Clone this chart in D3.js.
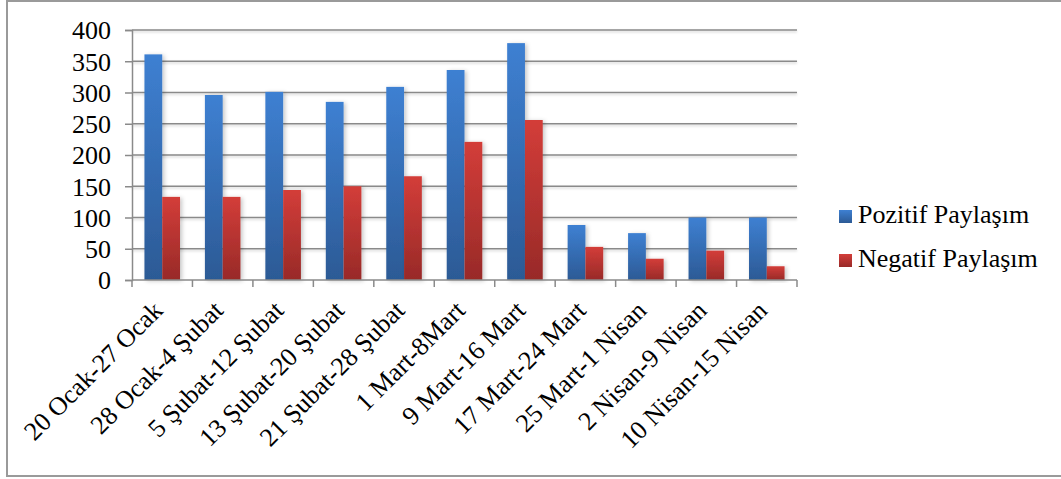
<!DOCTYPE html>
<html>
<head>
<meta charset="utf-8">
<script src="https://cdn.jsdelivr.net/npm/d3@7"></script>
<style>
  html, body { margin: 0; padding: 0; background: #fff; }
  svg text { font-family: "Liberation Serif", Tinos, "Times New Roman", "DejaVu Serif", serif !important; }
</style>
</head>
<body>
<svg id="chart" width="1061" height="479"></svg>
<script>
// Weekly counts of positive / negative posts
const categories = [
  "20 Ocak-27 Ocak", "28 Ocak-4 Şubat", "5 Şubat-12 Şubat", "13 Şubat-20 Şubat",
  "21 Şubat-28 Şubat", "1 Mart-8Mart", "9 Mart-16 Mart", "17 Mart-24 Mart",
  "25 Mart-1 Nisan", "2 Nisan-9 Nisan", "10 Nisan-15 Nisan"
];
const pozitif = [361, 296, 301, 285, 309, 336, 379, 88, 75, 100, 100];
const negatif = [133, 133, 144, 150, 166, 221, 256, 53, 34, 47, 22];
const seriesNames = ["Pozitif Paylaşım", "Negatif Paylaşım"];
const yTicks = [0, 50, 100, 150, 200, 250, 300, 350, 400];

const FONT = "'Liberation Serif', Tinos, 'Times New Roman', 'DejaVu Serif', serif";
const svg = d3.select("#chart");
const plot = { left: 132, right: 797, top: 30, bottom: 280 };

const x = d3.scaleBand().domain(categories).range([plot.left, plot.right]).padding(0);
const y = d3.scaleLinear().domain([0, 400]).range([plot.bottom, plot.top]);
const inner = d3.scaleBand().domain([0, 1]).range([0, x.bandwidth()]).paddingInner(0).paddingOuter(0.7);

const defs = svg.append("defs");
const grads = [
  { id: "gBlue", top: "#3e80d2", bottom: "#2c5a95" },
  { id: "gRed", top: "#d33d39", bottom: "#982a28" }
];
grads.forEach(g => {
  const lg = defs.append("linearGradient").attr("id", g.id)
    .attr("x1", 0).attr("y1", 0).attr("x2", 0).attr("y2", 1);
  lg.append("stop").attr("offset", "0%").attr("stop-color", g.top);
  lg.append("stop").attr("offset", "100%").attr("stop-color", g.bottom);
});
const shadow = defs.append("filter").attr("id", "shadow")
  .attr("x", "-30%").attr("y", "-10%").attr("width", "170%").attr("height", "130%");
shadow.append("feDropShadow").attr("dx", 2).attr("dy", 1).attr("stdDeviation", 2)
  .attr("flood-color", "#000").attr("flood-opacity", 0.22);
const lineShadow = defs.append("filter").attr("id", "lineShadow")
  .attr("x", "-5%").attr("y", "-200%").attr("width", "110%").attr("height", "500%");
lineShadow.append("feDropShadow").attr("dx", 0).attr("dy", 1.5).attr("stdDeviation", 1)
  .attr("flood-color", "#000").attr("flood-opacity", 0.18);

// outer frame
svg.append("rect").attr("x", 7).attr("y", 1).attr("width", 1070).attr("height", 475)
  .attr("fill", "none").attr("stroke", "#9a9a9a").attr("stroke-width", 2);

// gridlines
svg.append("g").attr("filter", "url(#lineShadow)")
  .selectAll("line").data(yTicks.filter(d => d > 0)).join("line")
  .attr("x1", plot.left).attr("x2", plot.right)
  .attr("y1", d => y(d)).attr("y2", d => y(d))
  .attr("stroke", "#8a8a8a").attr("stroke-width", 1.5);

// bars
const groups = svg.append("g").selectAll("g").data(categories).join("g")
  .attr("transform", d => `translate(${x(d)},0)`);
const seriesData = [pozitif, negatif];
groups.each(function(c, i) {
  const g = d3.select(this);
  seriesData.forEach((vals, s) => {
    g.append("rect")
      .attr("x", inner(s))
      .attr("width", inner.bandwidth())
      .attr("y", y(vals[i]))
      .attr("height", y(0) - y(vals[i]))
      .attr("fill", `url(#${grads[s].id})`)
      .attr("filter", "url(#shadow)");
  });
});

// y axis
const yAxis = svg.append("g").attr("transform", `translate(${plot.left},0)`)
  .call(d3.axisLeft(y).tickValues(yTicks).tickSize(7).tickPadding(14))
  .attr("font-family", FONT);
yAxis.select(".domain").attr("stroke", "#8a8a8a").attr("stroke-width", 1.5);
yAxis.selectAll(".tick line").attr("stroke", "#8a8a8a").attr("stroke-width", 1.5);
yAxis.selectAll(".tick text").attr("font-size", 26).attr("fill", "#000")
  .attr("font-family", FONT).attr("dy", "0.34em");

// x axis with ticks at category boundaries
const xAxisG = svg.append("g").attr("transform", `translate(0,${plot.bottom})`);
xAxisG.append("line").attr("x1", plot.left).attr("x2", plot.right)
  .attr("stroke", "#8a8a8a").attr("stroke-width", 1.5);
const bounds = categories.map(c => x(c)).concat([x(categories[categories.length - 1]) + x.bandwidth()]);
xAxisG.selectAll("line.tk").data(bounds).join("line").attr("class", "tk")
  .attr("x1", d => d).attr("x2", d => d).attr("y1", 0).attr("y2", 7)
  .attr("stroke", "#8a8a8a").attr("stroke-width", 1.5);
xAxisG.selectAll("text").data(categories).join("text")
  .attr("transform", d => `translate(${x(d) + x.bandwidth() / 2 + 2},${32}) rotate(-45)`)
  .attr("text-anchor", "end")
  .attr("font-size", 26)
  .attr("font-family", FONT)
  .attr("fill", "#000")
  .text(d => d);

// legend
const legend = svg.append("g").attr("transform", "translate(839,0)");
seriesNames.forEach((name, s) => {
  const yb = 223 + s * 44;
  legend.append("rect").attr("x", 0).attr("y", yb - 13).attr("width", 13).attr("height", 13)
    .attr("fill", `url(#${grads[s].id})`);
  legend.append("text").attr("x", 19).attr("y", yb)
    .attr("font-size", 26).attr("font-family", FONT).attr("fill", "#000").text(name);
});
</script>
</body>
</html>
